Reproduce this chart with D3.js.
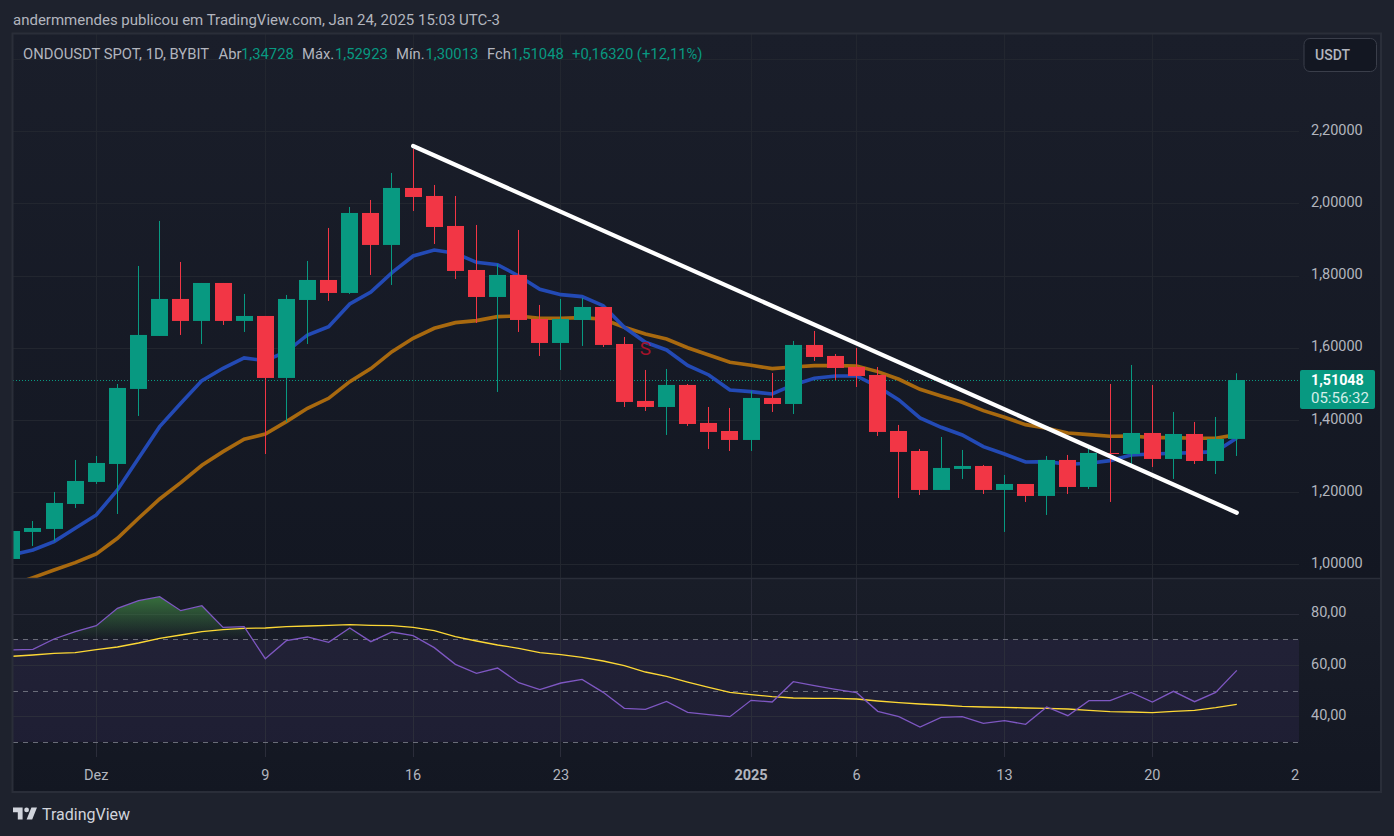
<!DOCTYPE html>
<html lang="pt">
  <head>
    <meta charset="utf-8">
    <title>ONDOUSDT SPOT 1D</title>
    <style>
      html, body { margin: 0; padding: 0; background: #1e222d; }
      svg { display: block; }
      text { font-family: Roboto, sans-serif; }
      .axis path, .axis line { display: none; }
      .axis text { fill: #b2b5be; font-size: 14.5px; font-family: Roboto, sans-serif; }
    </style>
  </head>
  <body>
    <svg id="chart" width="1394" height="836"></svg>
    <script src="https://d3js.org/d3.v7.min.js"></script>
    <script>
      const firstDay = new Date(Date.UTC(2024, 10, 27));

      const opens = [1.0148,1.0896,1.0979,1.1671,1.2281,1.2779,1.4857,1.6325,1.7350,1.6741,1.7793,1.6741,1.6879,1.5162,1.7322,1.7876,1.7516,1.9732,1.8846,2.0425,2.0203,1.9372,1.8153,1.7405,1.8015,1.6796,1.6131,1.6768,1.7128,1.6103,1.4525,1.4358,1.4968,1.3915,1.3693,1.3444,1.4608,1.4441,1.6076,1.5771,1.5466,1.5245,1.3693,1.3139,1.2059,1.2641,1.2724,1.2059,1.2225,1.1893,1.2890,1.2142,1.3084,1.3056,1.3638,1.2918,1.3610,1.2862,1.34728];
      const highs = [1.0950,1.1200,1.2004,1.2890,1.3001,1.4995,1.8264,1.9511,1.8375,1.7793,1.7793,1.7489,1.6879,1.7461,1.8403,1.9317,1.9898,2.0092,2.0840,2.1505,2.0508,2.0203,1.9400,1.8319,1.9261,1.7184,1.7350,1.7378,1.7128,1.6297,1.5383,1.5411,1.4995,1.4358,1.4331,1.4801,1.5300,1.6187,1.6463,1.5826,1.5993,1.5466,1.3860,1.3195,1.3527,1.3167,1.2752,1.2475,1.2225,1.3001,1.3029,1.3223,1.4995,1.5522,1.4968,1.4220,1.3943,1.4081,1.52923];
      const lows = [1.0100,1.0508,1.0637,1.1560,1.2225,1.1394,1.4109,1.6325,1.6353,1.6103,1.6630,1.6436,1.3056,1.3943,1.6103,1.7295,1.7489,1.8015,1.7738,1.9788,1.8873,1.7904,1.6685,1.4774,1.6436,1.5771,1.5383,1.6048,1.6020,1.4358,1.4247,1.3583,1.3832,1.3195,1.3139,1.3139,1.4220,1.4164,1.5633,1.5106,1.4912,1.3555,1.1837,1.1921,1.2059,1.2364,1.1948,1.0896,1.1727,1.1367,1.1948,1.2087,1.1727,1.2779,1.2696,1.2364,1.2779,1.2502,1.30013];
      const closes = [1.0923,1.1006,1.1699,1.2308,1.2807,1.4885,1.6353,1.7350,1.6741,1.7793,1.6741,1.6879,1.5162,1.7350,1.7876,1.7516,1.9732,1.8846,2.0425,2.0175,1.9344,1.8126,1.7405,1.8015,1.6768,1.6131,1.6796,1.7128,1.6076,1.4497,1.4358,1.4968,1.3887,1.3666,1.3444,1.4608,1.4441,1.6076,1.5743,1.5439,1.5217,1.3666,1.3112,1.2059,1.2669,1.2724,1.2059,1.2225,1.1893,1.2890,1.2142,1.3084,1.3066,1.3638,1.2918,1.3610,1.2862,1.3472,1.51048];

      const blueMa = [1.0259,1.0397,1.0628,1.0997,1.1367,1.2059,1.2936,1.3813,1.4460,1.5088,1.5429,1.5716,1.5642,1.5891,1.6353,1.6584,1.7211,1.7544,1.8079,1.8541,1.8707,1.8615,1.8366,1.8301,1.7987,1.7618,1.7470,1.7415,1.7165,1.6565,1.6150,1.5937,1.5507,1.5245,1.4829,1.4783,1.4718,1.4968,1.5152,1.5217,1.5217,1.4921,1.4552,1.4054,1.3795,1.3583,1.3260,1.3056,1.2835,1.2844,1.2770,1.2798,1.2872,1.3029,1.3056,1.3075,1.3093,1.3121,1.3500];
      const orangeMa = [0.9428,0.9631,0.9843,1.0046,1.0286,1.0720,1.1274,1.1810,1.2262,1.2742,1.3121,1.3463,1.3610,1.3952,1.4321,1.4598,1.5060,1.5420,1.5891,1.6260,1.6537,1.6694,1.6750,1.6861,1.6879,1.6814,1.6814,1.6833,1.6787,1.6565,1.6380,1.6242,1.6000,1.5799,1.5596,1.5512,1.5420,1.5466,1.5503,1.5503,1.5494,1.5337,1.5125,1.4848,1.4663,1.4488,1.4257,1.4072,1.3869,1.3767,1.3638,1.3592,1.3546,1.3555,1.3509,1.3509,1.3490,1.3490,1.3592];

      const rsi = [65.85,66.11,70.14,73.00,75.33,82.09,85.08,86.64,81.18,83.13,74.68,74.94,62.47,69.49,70.92,68.84,74.42,69.10,72.87,71.44,66.76,60.26,56.75,58.83,53.11,50.38,52.98,54.41,49.34,43.11,42.72,45.83,41.55,40.64,39.86,46.22,45.58,53.50,51.94,50.51,49.21,41.94,39.86,35.83,39.60,39.86,37.26,38.30,36.87,43.63,40.25,46.09,46.09,49.34,45.58,49.73,45.70,49.34,57.92];
      const rsiMa = [63.38,63.90,64.55,64.81,65.98,67.02,68.58,70.40,71.70,73.00,73.78,74.29,74.42,74.94,75.20,75.46,75.72,75.46,75.33,74.68,73.39,71.05,69.36,67.80,66.50,64.81,64.03,62.99,61.56,59.74,57.27,55.58,53.37,51.29,49.34,48.43,47.65,47.13,47.00,47.00,46.74,45.96,45.32,44.80,44.40,43.89,43.63,43.50,43.24,43.11,42.85,42.33,41.81,41.68,41.42,41.94,42.33,43.37,44.67];

      const priceGrid = [1.0, 1.2, 1.4, 1.6, 1.8, 2.0, 2.2, 2.4];
      const priceTicks = [1.0, 1.2, 1.4, 1.6, 1.8, 2.0, 2.2];
      const rsiTicks = [40, 60, 80];
      const rsiLevels = [30, 50, 70];
      const timeTicks = [[2024,11,1],[2024,11,9],[2024,11,16],[2024,11,23],[2025,0,1],[2025,0,6],[2025,0,13],[2025,0,20],[2025,0,27]].map(d => new Date(Date.UTC(d[0], d[1], d[2])));
      const timeLabels = ["Dez", "9", "16", "23", "2025", "6", "13", "20", "2"];

      const trendDays = [new Date(Date.UTC(2024, 11, 16)), new Date(Date.UTC(2025, 0, 24))];
      const trendPrices = [2.1587, 1.1429];
      const lastPrice = 1.51048;

      const green = "#089981", red = "#f23645", gridColor = "#22262f";
      const days = closes.map((c, i) => d3.utcDay.offset(firstDay, i));

      const paneLeft = 13, paneRight = 1299, paneEnd = 1381, paneTop = 34, split = 578, rsiBottom = 757, paneBottom = 792;

      const svg = d3.select("#chart");
      const x = d3.scaleUtc().domain([new Date(Date.UTC(2024, 11, 1)), trendDays[1]]).range([96.3, 1236.8]);
      const y = d3.scaleLinear().domain([1, 2.2]).range([564.3, 131.1]);
      const yR = d3.scaleLinear().domain([40, 80]).range([716.3, 613.7]);

      const defs = svg.append("defs");
      function vGrad(id, y1, y2, stops) {
        const g = defs.append("linearGradient").attr("id", id).attr("gradientUnits", "userSpaceOnUse")
          .attr("x1", 0).attr("x2", 0).attr("y1", y1).attr("y2", y2);
        stops.forEach(s => g.append("stop").attr("offset", s[0]).attr("stop-color", s[1]).attr("stop-opacity", s[2]));
      }
      vGrad("bgTop", paneTop, split, [[0, "#1a1e2a", 1], [1, "#131722", 1]]);
      vGrad("bgBottom", split, paneBottom, [[0, "#191d28", 1], [1, "#131722", 1]]);
      vGrad("obFill", yR(87), yR(70), [[0, "#37703d", 1], [1, "#37703d", 0]]);

      defs.append("clipPath").attr("id", "mainClip").append("rect")
        .attr("x", paneLeft).attr("y", paneTop).attr("width", paneRight - paneLeft).attr("height", split - paneTop);
      defs.append("clipPath").attr("id", "obClip").append("rect")
        .attr("x", paneLeft).attr("y", paneTop).attr("width", paneRight - paneLeft).attr("height", yR(70) - paneTop);
      defs.append("clipPath").attr("id", "rsiClip").append("rect")
        .attr("x", paneLeft).attr("y", split).attr("width", paneRight - paneLeft).attr("height", rsiBottom - split);

      // panes
      svg.append("rect").attr("x", paneLeft).attr("y", paneTop).attr("width", paneEnd - paneLeft).attr("height", split - paneTop).attr("fill", "url(#bgTop)");
      svg.append("rect").attr("x", paneLeft).attr("y", split).attr("width", paneEnd - paneLeft).attr("height", paneBottom - split).attr("fill", "url(#bgBottom)");

      // grid
      const grid = svg.append("g").attr("stroke", gridColor).attr("stroke-width", 1);
      grid.selectAll(".h").data(priceGrid).enter().append("line")
        .attr("x1", paneLeft).attr("x2", paneRight)
        .attr("y1", d => Math.round(y(d)) + 0.5).attr("y2", d => Math.round(y(d)) + 0.5);
      grid.selectAll(".v").data(timeTicks.slice(0, -1)).enter().append("line")
        .attr("x1", d => Math.floor(x(d)) + 0.5).attr("x2", d => Math.floor(x(d)) + 0.5)
        .attr("y1", paneTop).attr("y2", split);

      // rsi pane background marks
      const rsiG = svg.append("g");
      rsiG.append("rect").attr("x", paneLeft).attr("width", paneRight - paneLeft)
        .attr("y", yR(70)).attr("height", yR(30) - yR(70)).attr("fill", "#7e57c2").attr("fill-opacity", 0.1);
      rsiG.selectAll(".rh").data(rsiTicks).enter().append("line")
        .attr("x1", paneLeft).attr("x2", paneRight)
        .attr("y1", d => Math.round(yR(d)) + 0.5).attr("y2", d => Math.round(yR(d)) + 0.5)
        .attr("stroke", "#2b2d3a");
      rsiG.selectAll(".rv").data(timeTicks.slice(0, -1)).enter().append("line")
        .attr("x1", d => Math.floor(x(d)) + 0.5).attr("x2", d => Math.floor(x(d)) + 0.5)
        .attr("y1", split).attr("y2", rsiBottom).attr("stroke", "#2b2d3a");
      rsiG.selectAll(".lvl").data(rsiLevels).enter().append("line")
        .attr("x1", paneLeft).attr("x2", paneRight)
        .attr("y1", d => Math.round(yR(d)) + 0.5).attr("y2", d => Math.round(yR(d)) + 0.5)
        .attr("stroke", "#787b86").attr("stroke-opacity", 0.85).attr("stroke-dasharray", "5 5");

      const rsiClip = rsiG.append("g").attr("clip-path", "url(#rsiClip)");
      rsiClip.append("path").datum(rsi).attr("clip-path", "url(#obClip)")
        .attr("fill", "url(#obFill)")
        .attr("d", d3.area().x((d, i) => x(days[i])).y0(yR(70)).y1(d => yR(d)));
      rsiClip.append("path").datum(rsiMa).attr("fill", "none").attr("stroke", "#fdd835").attr("stroke-width", 1.3)
        .attr("d", d3.line().x((d, i) => x(days[i])).y(d => yR(d)));
      rsiClip.append("path").datum(rsi).attr("fill", "none").attr("stroke", "#7e57c2").attr("stroke-width", 1.3)
        .attr("d", d3.line().x((d, i) => x(days[i])).y(d => yR(d)));

      // main pane
      const main = svg.append("g").attr("clip-path", "url(#mainClip)");
      main.append("line").attr("x1", paneLeft).attr("x2", paneRight)
        .attr("y1", Math.round(y(lastPrice)) + 0.5).attr("y2", Math.round(y(lastPrice)) + 0.5)
        .attr("stroke", green).attr("stroke-dasharray", "1 2");

      const maLine = d3.line().x((d, i) => x(days[i])).y(d => y(d));
      main.append("path").datum(orangeMa).attr("fill", "none").attr("stroke", "#a8690f").attr("stroke-width", 3.6).attr("d", maLine);
      main.append("path").datum(blueMa).attr("fill", "none").attr("stroke", "#234ab5").attr("stroke-width", 3.6).attr("d", maLine);

      const candles = main.selectAll(".candle").data(days).enter().append("g").attr("class", "candle")
        .attr("fill", (d, i) => closes[i] >= opens[i] ? green : red);
      candles.append("rect")
        .attr("x", d => Math.floor(x(d)))
        .attr("width", 1)
        .attr("y", (d, i) => y(highs[i]))
        .attr("height", (d, i) => y(lows[i]) - y(highs[i]));
      candles.append("rect")
        .attr("x", d => Math.floor(x(d)) - 8)
        .attr("width", 17)
        .attr("y", (d, i) => y(Math.max(opens[i], closes[i])))
        .attr("height", (d, i) => Math.max(1, Math.abs(y(opens[i]) - y(closes[i]))));

      // signal mark on Dec 27
      main.append("text").attr("x", x(new Date(Date.UTC(2024, 11, 27)))).attr("y", 355)
        .attr("text-anchor", "middle").attr("font-size", 19).attr("fill", "#a5122a").text("S");

      main.append("line")
        .attr("x1", x(trendDays[0])).attr("y1", y(trendPrices[0]))
        .attr("x2", x(trendDays[1])).attr("y2", y(trendPrices[1]))
        .attr("stroke", "#ffffff").attr("stroke-width", 4.2).attr("stroke-linecap", "round");

      // axes
      const comma = f => v => f(v).replace(".", ",");
      svg.append("g").attr("class", "axis").attr("transform", "translate(1311,-1.5)")
        .call(d3.axisRight(y).tickValues(priceTicks).tickSize(0).tickPadding(0).tickFormat(comma(d3.format(".5f"))));
      svg.append("g").attr("class", "axis").attr("transform", "translate(1311,-1.5)")
        .call(d3.axisRight(yR).tickValues(rsiTicks).tickSize(0).tickPadding(0).tickFormat(comma(d3.format(".2f"))));
      const timeAxis = svg.append("g").attr("class", "axis").attr("transform", "translate(-0.5,770)")
        .call(d3.axisBottom(x).tickValues(timeTicks).tickSize(0).tickPadding(0).tickFormat((d, i) => timeLabels[i]));
      timeAxis.selectAll("text").filter((d, i) => timeLabels[i] === "2025").style("font-weight", 700);
      timeAxis.selectAll("text").filter((d, i) => i === timeLabels.length - 1).attr("dx", -5);

      // borders
      svg.append("path").attr("fill", "none").attr("stroke", "#2a2e39").attr("stroke-width", 2)
        .attr("d", `M${paneLeft - 0.5},${paneTop - 0.5}H${paneEnd}V${paneBottom}H${paneLeft - 0.5}Z`);
      svg.append("line").attr("x1", paneLeft).attr("x2", paneEnd).attr("y1", split + 0.5).attr("y2", split + 0.5)
        .attr("stroke", "#2a2e39").attr("stroke-width", 1.5);

      // last price label
      svg.append("rect").attr("x", 1300).attr("y", 370).attr("width", 75).attr("height", 39).attr("rx", 2).attr("fill", green);
      svg.append("text").attr("x", 1311).attr("y", 385).attr("font-size", 14.3).attr("font-weight", 700).attr("fill", "#ffffff").text("1,51048");
      svg.append("text").attr("x", 1311).attr("y", 402.5).attr("font-size", 15).attr("fill", "#d4eee9").text("05:56:32");

      // currency button
      svg.append("rect").attr("x", 1304).attr("y", 38.5).attr("width", 72.5).attr("height", 33).attr("rx", 6)
        .attr("fill", "#131722").attr("stroke", "#3a3e4a");
      svg.append("text").attr("x", 1315).attr("y", 60).attr("font-size", 14).attr("font-weight", 500).attr("fill", "#b2b5be").text("USDT");

      // header and legend
      svg.append("text").attr("x", 13).attr("y", 25).attr("font-size", 15).attr("fill", "#b2b5be")
        .text("andermmendes publicou em TradingView.com, Jan 24, 2025 15:03 UTC-3");
      const legendParts = [
        [23, "ONDOUSDT SPOT, 1D, BYBIT", "#b2b5be"],
        [218.6, "Abr", "#b2b5be"], [241, "1,34728", green],
        [302, "Máx.", "#b2b5be"], [335, "1,52923", green],
        [396, "Mín.", "#b2b5be"], [425.5, "1,30013", green],
        [487, "Fch", "#b2b5be"], [511, "1,51048", green],
        [572, "+0,16320 (+12,11%)", green]
      ];
      svg.append("g").selectAll("text").data(legendParts).enter().append("text")
        .attr("x", d => d[0]).attr("y", 59).attr("font-size", 14.8).attr("fill", d => d[2]).text(d => d[1]);

      // TradingView logo
      svg.append("path").attr("transform", "translate(11.4,802.7) scale(0.8)").attr("fill", "#d1d4dc")
        .attr("d", "M14 6H2v6h6v9h6V6zm12 15h-7l6-15h7l-6 15zm-7-9a3 3 0 1 0 0-6 3 3 0 0 0 0 6z");
      svg.append("text").attr("x", 42).attr("y", 820).attr("font-size", 16).attr("font-weight", 400).attr("fill", "#d1d4dc").text("TradingView");
    </script>
  </body>
</html>
